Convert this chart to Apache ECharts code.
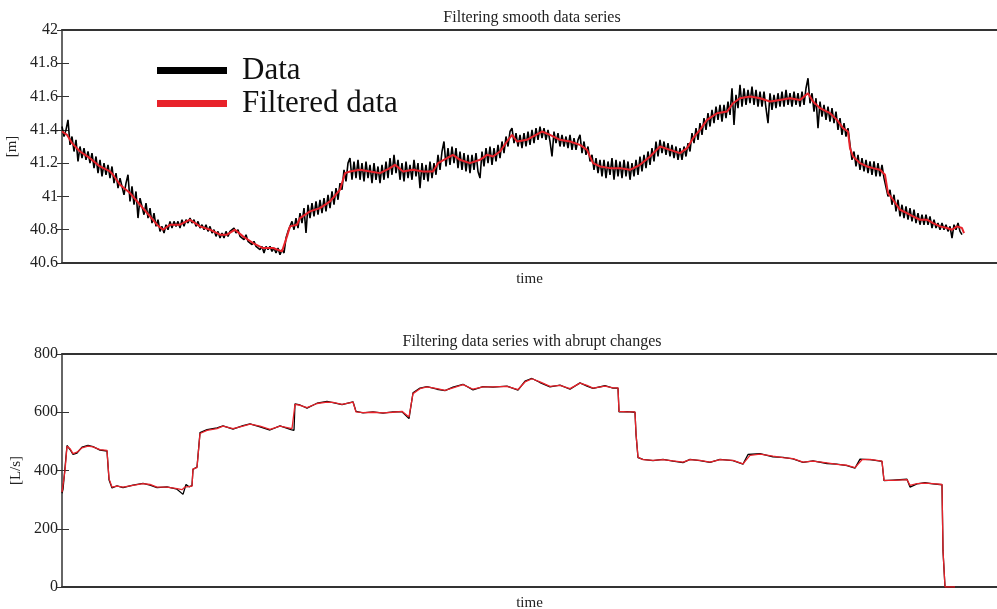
<!DOCTYPE html>
<html>
<head>
<meta charset="utf-8">
<script src="https://cdn.jsdelivr.net/npm/echarts@6/dist/echarts.min.js"></script>
<style>
  html, body { margin: 0; padding: 0; background: #fff; }
  #chart { width: 997px; height: 609px; }
</style>
</head>
<body>
<div id="chart"></div>
<script>
// ---- Water level [m]: raw measurements, sampled every 2 time units ----
const levelStep = 2;
const levelRaw = [
  41.42, 41.36, 41.40, 41.46, 41.31, 41.36, 41.27, 41.34, 41.21, 41.30,
  41.23, 41.29, 41.22, 41.27, 41.20, 41.26, 41.17, 41.24, 41.14, 41.22,
  41.12, 41.20, 41.13, 41.19, 41.11, 41.18, 41.08, 41.14, 41.05, 41.11,
  41.10, 41.01, 41.08, 41.13, 40.97, 41.06, 40.95, 41.03, 40.87, 40.99,
  40.98, 40.89, 40.96, 40.87, 40.93, 40.84, 40.90, 40.82, 40.86, 40.79,
  40.82, 40.78, 40.83, 40.80, 40.85, 40.81, 40.85, 40.82, 40.85, 40.81,
  40.86, 40.82, 40.86, 40.84, 40.87, 40.84, 40.86, 40.82, 40.85, 40.81,
  40.83, 40.80, 40.83, 40.79, 40.82, 40.78, 40.80, 40.76, 40.79, 40.75,
  40.78, 40.75, 40.79, 40.76, 40.79, 40.78, 40.81, 40.78, 40.80, 40.76,
  40.77, 40.74, 40.77, 40.73, 40.74, 40.71, 40.73, 40.70, 40.71, 40.68,
  40.70, 40.66, 40.70, 40.68, 40.70, 40.67, 40.69, 40.66, 40.69, 40.65,
  40.68, 40.66, 40.75, 40.79, 40.80, 40.85, 40.80, 40.87, 40.81, 40.90,
  40.84, 40.93, 40.78, 40.95, 40.87, 40.96, 40.88, 40.97, 40.89, 40.98,
  40.90, 40.99, 40.91, 41.01, 40.93, 41.03, 40.95, 41.05, 40.98, 41.08,
  41.04, 41.16, 41.09, 41.20, 41.23, 41.10, 41.21, 41.11, 41.22, 41.10,
  41.20, 41.09, 41.21, 41.11, 41.19, 41.08, 41.20, 41.10, 41.18, 41.08,
  41.19, 41.10, 41.21, 41.11, 41.23, 41.13, 41.25, 41.14, 41.22, 41.10,
  41.20, 41.09, 41.21, 41.11, 41.19, 41.10, 41.22, 41.12, 41.20, 41.05,
  41.20, 41.10, 41.19, 41.09, 41.21, 41.11, 41.20, 41.13, 41.25, 41.16,
  41.27, 41.33, 41.18, 41.29, 41.19, 41.30, 41.20, 41.29, 41.17, 41.27,
  41.16, 41.26, 41.15, 41.25, 41.14, 41.25, 41.16, 41.26, 41.15, 41.11,
  41.27, 41.18, 41.29, 41.20, 41.30, 41.19, 41.29, 41.21, 41.31, 41.23,
  41.33, 41.26, 41.36, 41.30, 41.39, 41.41, 41.32, 41.38, 41.30, 41.37,
  41.29, 41.38, 41.30, 41.39, 41.31, 41.40, 41.32, 41.41, 41.34, 41.42,
  41.35, 41.41, 41.34, 41.40, 41.33, 41.24, 41.39, 41.32, 41.38, 41.30,
  41.37, 41.30, 41.36, 41.29, 41.37, 41.28, 41.35, 41.28, 41.34, 41.37,
  41.26, 41.33, 41.25, 41.30, 41.21, 41.25, 41.16, 41.23, 41.14, 41.22,
  41.12, 41.22, 41.11, 41.21, 41.13, 41.23, 41.10, 41.22, 41.12, 41.21,
  41.11, 41.22, 41.12, 41.21, 41.10, 41.20, 41.12, 41.22, 41.13, 41.24,
  41.15, 41.25, 41.17, 41.27, 41.19, 41.29, 41.21, 41.33, 41.24, 41.34,
  41.26, 41.33, 41.25, 41.32, 41.24, 41.31, 41.23, 41.30, 41.22, 41.29,
  41.22, 41.30, 41.24, 41.32, 41.27, 41.38, 41.32, 41.41, 41.34, 41.44,
  41.37, 41.47, 41.40, 41.50, 41.42, 41.52, 41.44, 41.54, 41.46, 41.55,
  41.45, 41.55, 41.47, 41.57, 41.49, 41.65, 41.43, 41.61, 41.53, 41.67,
  41.54, 41.65, 41.55, 41.64, 41.56, 41.66, 41.55, 41.64, 41.54, 41.63,
  41.54, 41.63, 41.53, 41.44, 41.62, 41.52, 41.61, 41.53, 41.62, 41.54,
  41.63, 41.54, 41.64, 41.55, 41.62, 41.54, 41.63, 41.55, 41.62, 41.54,
  41.63, 41.55, 41.65, 41.71, 41.56, 41.62, 41.51, 41.59, 41.41, 41.57,
  41.48, 41.55, 41.46, 41.54, 41.45, 41.53, 41.44, 41.51, 41.40, 41.47,
  41.37, 41.44, 41.36, 41.41, 41.31, 41.22, 41.27, 41.18, 41.25, 41.16,
  41.23, 41.15, 41.22, 41.14, 41.21, 41.13, 41.21, 41.12, 41.20, 41.12,
  41.19, 41.11, 41.12, 41.00, 41.04, 40.95, 41.01, 40.91, 40.98, 40.88,
  40.95, 40.87, 40.94, 40.86, 40.93, 40.85, 40.92, 40.84, 40.90, 40.83,
  40.89, 40.83, 40.89, 40.83, 40.88, 40.81, 40.86, 40.81, 40.84, 40.80,
  40.84, 40.80, 40.83, 40.79, 40.82, 40.75, 40.83, 40.80, 40.84, 40.79,
  40.77
];

// ---- Water level [m]: filtered series ----
const levelFiltT = [
  0, 5, 10, 18, 28, 38, 48, 51, 58, 68, 78, 88, 95, 101, 108, 118, 128, 138, 148, 158,
  165, 173, 181, 191, 201, 211, 220, 225, 228, 235, 238, 248, 258, 268, 278, 283, 288, 298, 308, 318,
  328, 333, 341, 351, 361, 371, 376, 385, 391, 398, 408, 418, 425, 431, 438, 445, 450, 455, 465, 468,
  480, 488, 498, 508, 518, 525, 531, 538, 548, 558, 568, 578, 588, 598, 608, 618, 625, 631, 638, 645,
  655, 665, 671, 678, 688, 698, 708, 718, 728, 738, 746, 751, 758, 768, 775, 781, 786, 788, 791, 798,
  805, 811, 818, 823, 826, 831, 838, 845, 851, 858, 865, 871, 878, 885, 890, 895, 900, 902
];
const levelFiltV = [
  41.39, 41.37, 41.32, 41.27, 41.23, 41.18, 41.15, 41.13, 41.07, 41.02, 40.95, 40.88, 40.83, 40.80, 40.83, 40.83, 40.86, 40.82, 40.80, 40.77,
  40.77, 40.80, 40.76, 40.72, 40.69, 40.69, 40.67, 40.76, 40.82, 40.83, 40.87, 40.91, 40.93, 40.97, 41.04, 41.14, 41.15, 41.16, 41.15, 41.14,
  41.17, 41.19, 41.15, 41.16, 41.15, 41.15, 41.20, 41.23, 41.25, 41.22, 41.20, 41.22, 41.25, 41.24, 41.27, 41.33, 41.37, 41.33, 41.34, 41.35,
  41.39, 41.37, 41.34, 41.33, 41.31, 41.28, 41.20, 41.18, 41.17, 41.17, 41.16, 41.19, 41.24, 41.30, 41.28, 41.26, 41.29, 41.35, 41.40, 41.46,
  41.50, 41.51, 41.56, 41.59, 41.60, 41.59, 41.57, 41.58, 41.59, 41.58, 41.62, 41.57, 41.53, 41.50, 41.46, 41.41, 41.39, 41.29, 41.24, 41.20,
  41.18, 41.17, 41.16, 41.13, 41.02, 40.98, 40.92, 40.90, 40.88, 40.86, 40.86, 40.84, 40.82, 40.81, 40.80, 40.82, 40.81, 40.78
];

// ---- Flow [L/s]: raw measurements ----
const flowRawT = [
  0, 1, 3, 5, 8, 11, 15, 20, 26, 31, 38, 45, 46, 47, 50, 55, 61, 71, 81, 88,
  95, 105, 115, 121, 124, 127, 130, 131, 135, 138, 145, 155, 161, 171, 181, 188, 198, 208, 218, 229,
  232, 233, 238, 245, 255, 265, 271, 280, 291, 293, 294, 301, 311, 321, 331, 340, 347, 351, 358, 365,
  375, 383, 391, 401, 411, 421, 431, 445, 456, 463, 470, 478, 488, 498, 508, 518, 525, 531, 543, 551,
  556, 557, 565, 573, 574, 576, 581, 591, 601, 611, 621, 628, 638, 648, 658, 671, 681, 686, 698, 711,
  721, 731, 741, 751, 765, 775, 785, 793, 798, 808, 820, 822, 831, 845, 848, 855, 863, 871, 880, 881,
  883, 893
];
const flowRawV = [
  322, 335, 410, 486, 472, 455, 460, 480, 486, 482, 470, 467, 466, 368, 340, 347, 341, 350, 356, 350,
  341, 344, 336, 318, 352, 344, 348, 404, 412, 530, 540, 546, 553, 542, 554, 560, 550, 539, 553, 540,
  538, 629, 625, 614, 631, 637, 633, 626, 636, 634, 603, 598, 601, 597, 601, 602, 578, 667, 683, 688,
  679, 674, 686, 696, 677, 688, 686, 690, 676, 707, 716, 702, 687, 693, 679, 701, 690, 682, 691, 683,
  683, 601, 602, 600, 525, 444, 438, 434, 438, 432, 427, 438, 434, 428, 438, 434, 422, 455, 458, 447,
  445, 440, 428, 433, 424, 422, 417, 408, 439, 437, 431, 365, 367, 370, 343, 354, 358, 354, 351, 124,
  0, 0
];

// ---- Flow [L/s]: filtered series ----
const flowFiltT = [
  0, 1, 3, 5, 8, 11, 15, 20, 26, 31, 38, 45, 46, 47, 50, 55, 61, 71, 81, 88,
  95, 105, 115, 120, 123, 130, 131, 135, 138, 145, 155, 161, 171, 181, 188, 198, 208, 218, 230, 232,
  233, 238, 245, 255, 265, 271, 280, 291, 293, 294, 301, 311, 321, 331, 340, 347, 351, 358, 365, 375,
  383, 391, 401, 411, 421, 431, 445, 456, 463, 470, 478, 488, 498, 508, 518, 525, 531, 543, 551, 556,
  557, 565, 573, 574, 576, 581, 591, 601, 611, 621, 628, 638, 648, 658, 671, 681, 688, 698, 711, 721,
  731, 741, 751, 765, 775, 785, 793, 800, 808, 820, 822, 831, 845, 848, 855, 863, 871, 880, 881, 883,
  893
];
const flowFiltV = [
  326, 332, 400, 483, 475, 458, 463, 478, 484, 481, 472, 469, 468, 372, 343, 346, 343, 349, 355, 352,
  343, 343, 338, 334, 343, 346, 406, 410, 527, 538, 544, 552, 544, 552, 559, 552, 541, 552, 544, 544,
  627, 624, 616, 630, 635, 634, 627, 635, 635, 601, 599, 600, 598, 600, 603, 584, 664, 681, 687, 681,
  675, 684, 695, 679, 687, 687, 689, 678, 704, 715, 704, 689, 692, 681, 700, 692, 683, 690, 684, 684,
  603, 601, 601, 527, 446, 437, 435, 437, 433, 429, 437, 435, 429, 437, 435, 423, 452, 456, 449, 444,
  441, 429, 432, 426, 421, 418, 410, 437, 438, 432, 366, 366, 369, 349, 355, 357, 355, 352, 126, 0,
  0
];

const levelTicks = { min: 40.6, max: 42, interval: 0.2 };
const flowTicks = { min: 0, max: 800, interval: 200 };
const timeSpan = 935;

const FONT = '"Liberation Serif", "Times New Roman", serif';
const INK = '#222';
const FRAME = '#333';
const RED = '#e8222a';

const zip = (t, v) => t.map((x, i) => [x, v[i]]);
const levelRawPairs = levelRaw.map((v, i) => [i * levelStep, v]);

function frameX(gridIndex, position, withName) {
  return {
    type: 'value', gridIndex, position, min: 0, max: timeSpan,
    axisLine: { show: true, onZero: false, lineStyle: { color: FRAME, width: 2 } },
    axisTick: { show: false }, axisLabel: { show: false }, splitLine: { show: false },
    name: withName ? 'time' : '', nameLocation: 'middle', nameGap: 9,
    nameTextStyle: { fontFamily: FONT, fontSize: 15, color: INK }
  };
}

function leftY(gridIndex, ticks, name, gap, fmt) {
  return {
    type: 'value', gridIndex, position: 'left',
    min: ticks.min, max: ticks.max, interval: ticks.interval,
    axisLine: { show: true, onZero: false, lineStyle: { color: FRAME, width: 1.5 } },
    axisTick: { show: true, inside: true, length: 7, lineStyle: { color: FRAME, width: 1 } },
    axisLabel: { fontFamily: FONT, fontSize: 16, color: INK, margin: 4, formatter: fmt },
    splitLine: { show: false },
    name, nameLocation: 'middle', nameGap: gap, nameRotate: 90,
    nameTextStyle: { fontFamily: FONT, fontSize: 15, color: INK }
  };
}

function rightY(gridIndex, ticks) {
  return {
    type: 'value', gridIndex, position: 'right',
    min: ticks.min, max: ticks.max, interval: ticks.interval,
    axisLine: { show: false },
    axisTick: { show: true, inside: true, length: 5, lineStyle: { color: FRAME, width: 1 } },
    axisLabel: { show: false }, splitLine: { show: false }
  };
}

const chart = echarts.init(document.getElementById('chart'), null, { renderer: 'canvas' });
chart.setOption({
  animation: false,
  backgroundColor: '#fff',
  title: [
    { text: 'Filtering smooth data series', left: 527, top: 5, textAlign: 'center',
      textStyle: { fontFamily: FONT, fontSize: 16, fontWeight: 'normal', color: INK } },
    { text: 'Filtering data series with abrupt changes', left: 527, top: 329, textAlign: 'center',
      textStyle: { fontFamily: FONT, fontSize: 16, fontWeight: 'normal', color: INK } }
  ],
  legend: {
    data: ['Data', 'Filtered data'],
    orient: 'vertical', left: 157, top: 55, itemGap: 2, padding: 0,
    itemWidth: 70, itemHeight: 7, icon: 'rect', selectedMode: false,
    textStyle: { fontFamily: FONT, fontSize: 31, color: '#111', padding: [0, 0, 0, 10] }
  },
  grid: [
    { left: 62, right: 0, top: 30, height: 233, containLabel: false, outerBoundsMode: 'none' },
    { left: 62, right: 0, top: 354, height: 233, containLabel: false, outerBoundsMode: 'none' }
  ],
  xAxis: [
    frameX(0, 'bottom', true), frameX(0, 'top', false),
    frameX(1, 'bottom', true), frameX(1, 'top', false)
  ],
  yAxis: [
    leftY(0, levelTicks, '[m]', 32, v => String(+v.toFixed(1))),
    rightY(0, levelTicks),
    leftY(1, flowTicks, '[L/s]', 27, v => String(v)),
    rightY(1, flowTicks)
  ],
  series: [
    { name: 'Data', type: 'line', xAxisIndex: 0, yAxisIndex: 0, data: levelRawPairs,
      showSymbol: false, lineStyle: { color: '#000', width: 1.6, join: 'bevel' }, itemStyle: { color: '#000' } },
    { name: 'Filtered data', type: 'line', xAxisIndex: 0, yAxisIndex: 0, data: zip(levelFiltT, levelFiltV),
      showSymbol: false, lineStyle: { color: RED, width: 2 }, itemStyle: { color: RED } },
    { name: 'Data', type: 'line', xAxisIndex: 2, yAxisIndex: 2, data: zip(flowRawT, flowRawV),
      showSymbol: false, lineStyle: { color: '#000', width: 1.3 }, itemStyle: { color: '#000' } },
    { name: 'Filtered data', type: 'line', xAxisIndex: 2, yAxisIndex: 2, data: zip(flowFiltT, flowFiltV),
      showSymbol: false, lineStyle: { color: RED, width: 1.3 }, itemStyle: { color: RED } }
  ]
});
</script>
</body>
</html>
